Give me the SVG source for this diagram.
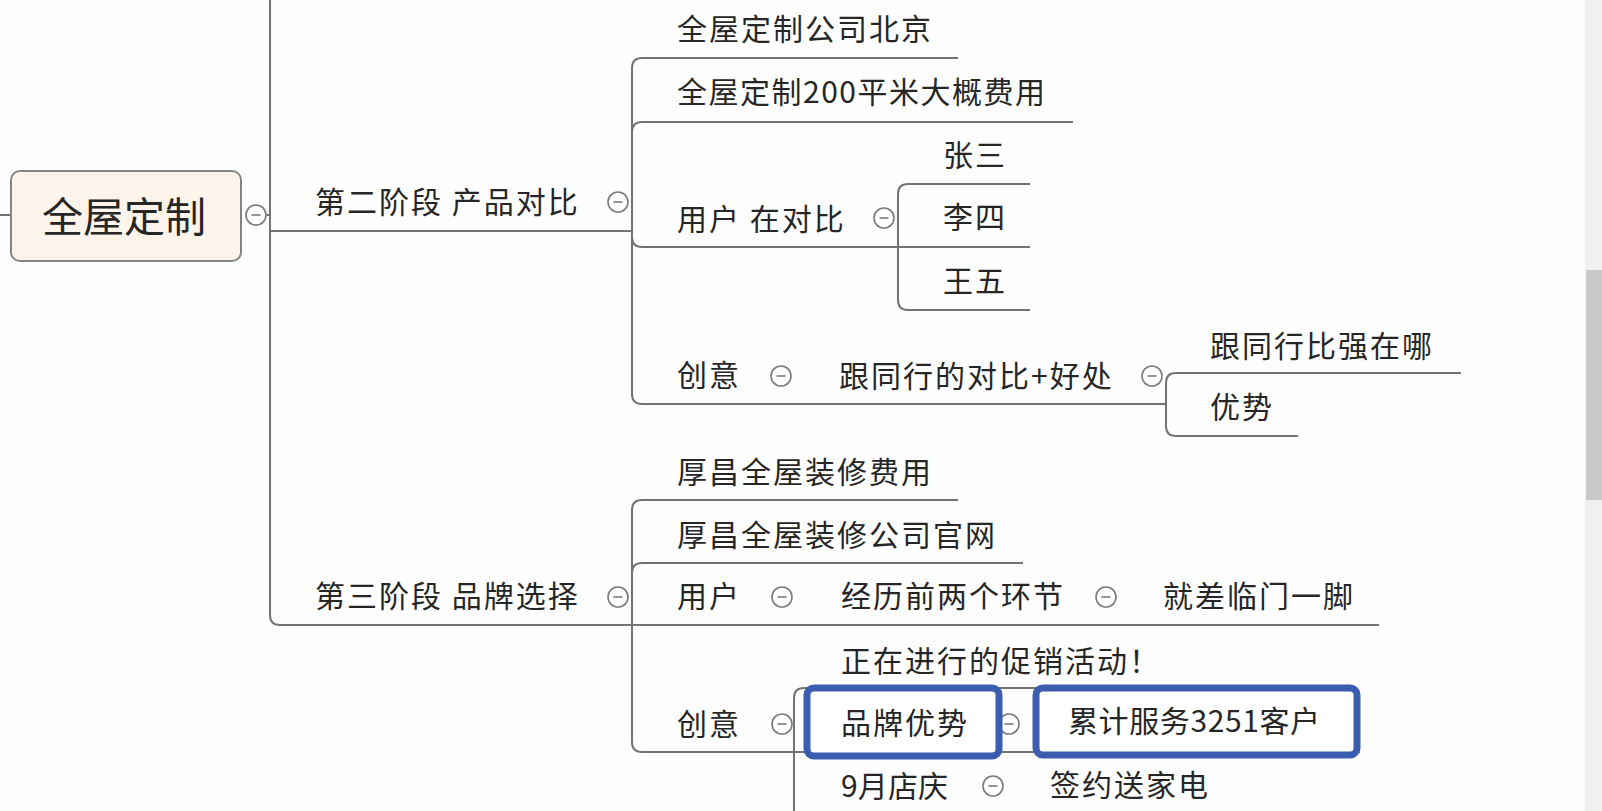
<svg xmlns="http://www.w3.org/2000/svg" xmlns:xlink="http://www.w3.org/1999/xlink" width="1602" height="811" viewBox="0 0 1602 811">
<style>
.t{font-family:'Noto Sans CJK SC','Noto Sans',sans-serif;font-size:30px;fill:#262626;letter-spacing:2px;dominant-baseline:central}
.c{fill:none;stroke:#737373;stroke-width:2}
.hl{fill:#fff;stroke:#3b5daf;stroke-width:7}
</style>
<defs>
<g id="minus"><circle r="10" fill="#fff" stroke="#7a7a7a" stroke-width="1.6"/><line x1="-4.5" y1="0" x2="4.5" y2="0" stroke="#7a7a7a" stroke-width="1.6"/></g>
</defs>
<rect width="1602" height="811" fill="#fefefe"/>
<g id="scrollbar">
<rect x="1585" y="0" width="17" height="811" fill="#f1eff2"/>
<rect x="1586" y="270" width="16" height="230" fill="#c9c9c9"/>
</g>
<g id="connectors">
<path class="c" d="M0 215 H11"/>
<path class="c" d="M266 215 H270"/>
<path class="c" d="M270 0 V615 Q270 625 280 625 H632"/>
<path class="c" d="M270 231 H632"/>
<path class="c" d="M632 231 V68 Q632 58 642 58 H958"/>
<path class="c" d="M632 231 V132 Q632 122 642 122 H1073"/>
<path class="c" d="M632 231 V237 Q632 247 642 247 H1030"/>
<path class="c" d="M898 247 V194 Q898 184 908 184 H1030"/>
<path class="c" d="M898 247 V300 Q898 310 908 310 H1030"/>
<path class="c" d="M632 231 V394 Q632 404 642 404 H1166"/>
<path class="c" d="M1166 404 V383 Q1166 373 1176 373 H1461"/>
<path class="c" d="M1166 404 V426 Q1166 436 1176 436 H1298"/>
<path class="c" d="M632 625 V510 Q632 500 642 500 H958"/>
<path class="c" d="M632 625 V573 Q632 563 642 563 H1023"/>
<path class="c" d="M632 625 H1379"/>
<path class="c" d="M632 625 V742 Q632 752 642 752 H1360"/>
<path class="c" d="M794 752 V698 Q794 688 804 688 H1150"/>
<path class="c" d="M794 752 V811"/>
</g>
<g id="root">
<rect x="11" y="171" width="230" height="90" rx="9" fill="#fcf4ea" stroke="#858585" stroke-width="2"/>
<text class="t" x="124" y="214" text-anchor="middle" style="font-size:41px;letter-spacing:0">全屋定制</text>
<use xlink:href="#minus" x="256" y="215"/>
</g>
<g id="stage2">
<text class="t" x="315" y="200">第二阶段 产品对比</text>
<use xlink:href="#minus" x="618" y="202"/>
</g>
<g id="n-company-bj"><text class="t" x="677" y="27">全屋定制公司北京</text></g>
<g id="n-cost200"><text class="t" x="677" y="90" textLength="370" lengthAdjust="spacing">全屋定制200平米大概费用</text></g>
<g id="n-user-compare">
<text class="t" x="677" y="217">用户 在对比</text>
<use xlink:href="#minus" x="884" y="218"/>
</g>
<g id="n-zhangsan"><text class="t" x="943" y="153">张三</text></g>
<g id="n-lisi"><text class="t" x="943" y="215">李四</text></g>
<g id="n-wangwu"><text class="t" x="943" y="279">王五</text></g>
<g id="n-idea1">
<text class="t" x="677" y="373">创意</text>
<use xlink:href="#minus" x="781" y="376"/>
</g>
<g id="n-compare-benefit">
<text class="t" x="839" y="374">跟同行的对比+好处</text>
<use xlink:href="#minus" x="1152" y="376"/>
</g>
<g id="n-stronger"><text class="t" x="1210" y="344">跟同行比强在哪</text></g>
<g id="n-advantage"><text class="t" x="1210" y="405">优势</text></g>
<g id="stage3">
<text class="t" x="315" y="594">第三阶段 品牌选择</text>
<use xlink:href="#minus" x="618" y="597"/>
</g>
<g id="n-hc-cost"><text class="t" x="677" y="470">厚昌全屋装修费用</text></g>
<g id="n-hc-site"><text class="t" x="677" y="533">厚昌全屋装修公司官网</text></g>
<g id="n-user3">
<text class="t" x="677" y="594">用户</text>
<use xlink:href="#minus" x="782" y="597"/>
</g>
<g id="n-experienced">
<text class="t" x="841" y="594">经历前两个环节</text>
<use xlink:href="#minus" x="1106" y="597"/>
</g>
<g id="n-last-step"><text class="t" x="1163" y="594">就差临门一脚</text></g>
<g id="n-idea3">
<text class="t" x="677" y="722">创意</text>
<use xlink:href="#minus" x="782" y="724"/>
</g>
<g id="n-promo"><text class="t" x="841" y="659">正在进行的促销活动！</text></g>
<g id="n-brand-adv">
<use xlink:href="#minus" x="1009" y="724"/>
<rect class="hl" x="807" y="688" width="192" height="68" rx="7"/>
<text class="t" x="841" y="721">品牌优势</text>
</g>
<g id="n-served">
<rect class="hl" x="1036" y="688" width="321" height="67" rx="7"/>
<text class="t" x="1068" y="719" textLength="254" lengthAdjust="spacing">累计服务3251客户</text>
</g>
<g id="n-anniv">
<text class="t" x="841" y="784" textLength="109" lengthAdjust="spacing">9月店庆</text>
<use xlink:href="#minus" x="993" y="786"/>
</g>
<g id="n-gift"><text class="t" x="1050" y="783">签约送家电</text></g>
</svg>
